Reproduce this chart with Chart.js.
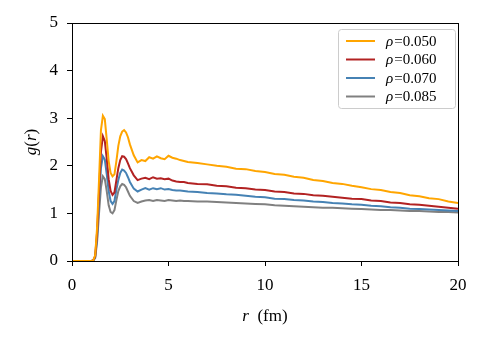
<!DOCTYPE html>
<html>
<head>
<meta charset="utf-8">
<script src="https://cdn.jsdelivr.net/npm/chart.js@4"></script>
<style>
  html, body { margin: 0; padding: 0; background: #fff; }
  #wrap { width: 485px; height: 341px; }
</style>
</head>
<body>
<div id="wrap"><canvas id="grChart" width="485" height="341"></canvas></div>
<script>
// radial distance r (fm)
const rVals = [0, 1.0, 1.1, 1.2, 1.3, 1.4, 1.5, 1.6, 1.7, 1.8, 1.9, 2.0, 2.1, 2.2, 2.3, 2.4, 2.5, 2.6, 2.7, 2.8, 2.9, 3.0,
  3.2, 3.4, 3.6, 3.8, 4.0, 4.2, 4.4, 4.6, 4.8, 5.0, 5.2, 5.4, 5.6, 5.8, 6.0,
  6.5, 7.0, 7.5, 8.0, 8.5, 9.0, 9.5, 10.0, 10.5, 11.0, 11.5, 12.0, 12.5, 13.0, 13.5, 14.0, 14.5, 15.0,
  15.5, 16.0, 16.5, 17.0, 17.5, 18.0, 18.5, 19.0, 19.5, 20.0];

const g050 = [0, 0, 0.01, 0.12, 0.7, 1.7, 2.75, 3.05, 2.98, 2.55, 2.1, 1.85, 1.78, 1.82, 2.1, 2.42, 2.62, 2.72, 2.75, 2.7, 2.6, 2.45,
  2.22, 2.07, 2.12, 2.1, 2.18, 2.15, 2.2, 2.16, 2.14, 2.21, 2.17, 2.15, 2.12, 2.1, 2.08,
  2.06, 2.03, 2.0, 1.98, 1.94, 1.93, 1.89, 1.87, 1.83, 1.81, 1.77, 1.75, 1.7, 1.68, 1.64, 1.62, 1.58, 1.55,
  1.51, 1.49, 1.45, 1.43, 1.38, 1.36, 1.32, 1.3, 1.25, 1.22];

const g060 = [0, 0, 0.01, 0.1, 0.6, 1.45, 2.3, 2.62, 2.52, 2.15, 1.72, 1.47, 1.39, 1.44, 1.7, 1.95, 2.12, 2.2, 2.19, 2.14, 2.05, 1.95,
  1.8, 1.7, 1.73, 1.75, 1.72, 1.76, 1.73, 1.74, 1.72, 1.73, 1.69, 1.67, 1.66, 1.66, 1.64,
  1.62, 1.61, 1.58, 1.57, 1.54, 1.53, 1.5, 1.49, 1.46, 1.45, 1.42, 1.41, 1.38, 1.37, 1.35, 1.33, 1.31, 1.3,
  1.27, 1.26, 1.23, 1.22, 1.19, 1.18, 1.16, 1.14, 1.12, 1.1];

const g070 = [0, 0, 0.01, 0.08, 0.5, 1.25, 1.95, 2.2, 2.13, 1.82, 1.47, 1.26, 1.2, 1.26, 1.5, 1.7, 1.85, 1.92, 1.9, 1.85, 1.76, 1.66,
  1.52, 1.46, 1.5, 1.53, 1.5, 1.53, 1.51, 1.53, 1.5, 1.51, 1.49, 1.48, 1.48, 1.47, 1.46,
  1.45, 1.43, 1.42, 1.4, 1.39, 1.37, 1.35, 1.34, 1.31, 1.3, 1.28, 1.27, 1.25, 1.24, 1.22, 1.21, 1.19, 1.18,
  1.16, 1.15, 1.13, 1.12, 1.1, 1.09, 1.08, 1.07, 1.06, 1.05];

const g085 = [0, 0, 0.01, 0.06, 0.4, 1.0, 1.55, 1.78, 1.72, 1.47, 1.17, 1.03, 1.0, 1.07, 1.28, 1.47, 1.57, 1.62, 1.6, 1.55, 1.46, 1.37,
  1.26, 1.22, 1.25, 1.27, 1.28, 1.26, 1.28, 1.27, 1.26, 1.28, 1.27, 1.26, 1.27, 1.26, 1.26,
  1.25, 1.25, 1.24, 1.23, 1.22, 1.21, 1.2, 1.19, 1.17, 1.16, 1.15, 1.14, 1.13, 1.12, 1.12, 1.11, 1.1, 1.09,
  1.08, 1.07, 1.07, 1.06, 1.05, 1.05, 1.04, 1.03, 1.03, 1.02];

const labels = ['ρ=0.050', 'ρ=0.060', 'ρ=0.070', 'ρ=0.085'];
const colors = ['#ffa500', '#b22222', '#4682b4', '#808080'];
const series = [g050, g060, g070, g085];

const xTicks = [0, 5, 10, 15, 20];
const yTicks = [0, 1, 2, 3, 4, 5];

const serif = "'Liberation Serif', 'DejaVu Serif', serif";

// draws the frame, the axis titles and the legend box
const decor = {
  id: 'decor',
  afterDraw(chart) {
    const ctx = chart.ctx;
    const a = chart.chartArea;
    ctx.save();
    ctx.strokeStyle = '#000';
    ctx.lineWidth = 1;
    ctx.strokeRect(a.left + 0.5, a.top + 0.5, a.right - a.left, a.bottom - a.top);

    // x title: r (fm)
    ctx.fillStyle = '#000';
    ctx.textBaseline = 'alphabetic';
    ctx.font = 'italic 17px ' + serif;
    const w1 = ctx.measureText('r').width;
    ctx.font = '17px ' + serif;
    const w2 = ctx.measureText('  (fm)').width;
    let x0 = (a.left + a.right) / 2 - (w1 + w2) / 2;
    ctx.font = 'italic 17px ' + serif;
    ctx.fillText('r', x0, 321);
    ctx.font = '17px ' + serif;
    ctx.fillText('  (fm)', x0 + w1, 321);

    // y title: g(r)
    ctx.save();
    ctx.translate(36, (a.top + a.bottom) / 2);
    ctx.rotate(-Math.PI / 2);
    const parts = [['g', true], ['(', false], ['r', true], [')', false]];
    let tw = 0;
    parts.forEach(p => { ctx.font = (p[1] ? 'italic ' : '') + '17px ' + serif; tw += ctx.measureText(p[0]).width; });
    let cx = -tw / 2;
    parts.forEach(p => {
      ctx.font = (p[1] ? 'italic ' : '') + '17px ' + serif;
      ctx.fillText(p[0], cx, 0);
      cx += ctx.measureText(p[0]).width;
    });
    ctx.restore();

    // legend
    const bx = 338, by = 29, bw = 117, bh = 79;
    ctx.beginPath();
    ctx.roundRect(bx + 0.5, by + 0.5, bw, bh, 3);
    ctx.fillStyle = 'rgba(255,255,255,0.8)';
    ctx.fill();
    ctx.strokeStyle = '#cccccc';
    ctx.stroke();
    chart.data.datasets.forEach((ds, i) => {
      const yy = by + 12 + i * 18.5;
      ctx.strokeStyle = ds.borderColor;
      ctx.lineWidth = 2;
      ctx.beginPath();
      ctx.moveTo(bx + 8, yy);
      ctx.lineTo(bx + 37, yy);
      ctx.stroke();
      ctx.fillStyle = '#000';
      ctx.textBaseline = 'middle';
      ctx.font = 'italic 15px ' + serif;
      ctx.fillText(ds.label.charAt(0), bx + 48, yy + 1);
      const rw = ctx.measureText(ds.label.charAt(0)).width;
      ctx.font = '15px ' + serif;
      ctx.fillText(ds.label.slice(1), bx + 48 + rw + 1, yy + 1);
    });
    ctx.restore();
  }
};

const ctx = document.getElementById('grChart').getContext('2d');
new Chart(ctx, {
  type: 'line',
  data: {
    datasets: series.map((vals, i) => ({
      label: labels[i],
      data: rVals.map((r, k) => ({ x: r, y: vals[k] })),
      borderColor: colors[i],
      borderWidth: 2,
      pointRadius: 0,
      tension: 0,
      fill: false
    }))
  },
  options: {
    responsive: false,
    animation: false,
    layout: { padding: { left: 0, top: 23, right: 27, bottom: 0 } },
    plugins: { legend: { display: false }, tooltip: { enabled: false } },
    scales: {
      x: {
        type: 'linear',
        min: 0, max: 20,
        afterBuildTicks: s => { s.ticks = xTicks.map(v => ({ value: v })); },
        afterFit: s => { s.height = 80; },
        grid: { drawOnChartArea: false, color: '#000', tickLength: 5, tickWidth: 1 },
        border: { display: true, color: '#000', width: 1 },
        ticks: { color: '#000', font: { family: serif, size: 17 }, padding: 9, maxRotation: 0 }
      },
      y: {
        min: 0, max: 5,
        afterBuildTicks: s => { s.ticks = yTicks.map(v => ({ value: v })); },
        afterFit: s => { s.width = 72; },
        grid: { drawOnChartArea: false, color: '#000', tickLength: 5, tickWidth: 1 },
        border: { display: true, color: '#000', width: 1 },
        ticks: { color: '#000', font: { family: serif, size: 17 }, padding: 9 }
      }
    }
  },
  plugins: [decor]
});
</script>
</body>
</html>
